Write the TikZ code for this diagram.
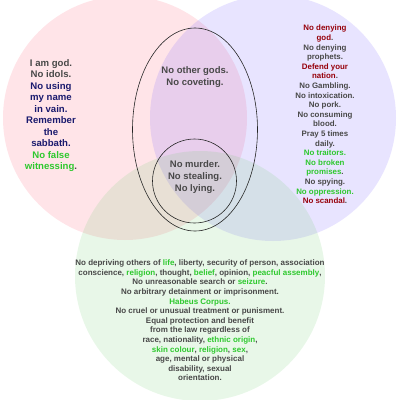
\documentclass[tikz,border=0pt]{standalone}
\usepackage{fontspec}
\setmainfont{Liberation Sans}
\definecolor{txtgray}{RGB}{72,72,72}
\definecolor{txtnavy}{RGB}{26,26,110}
\definecolor{txtgreen}{RGB}{45,200,45}
\definecolor{txtred}{RGB}{150,0,10}
\definecolor{pinkfill}{RGB}{255,75,102}
\definecolor{purplefill}{RGB}{102,75,255}
\definecolor{greenfill}{RGB}{102,202,102}

\tikzset{every picture/.style={line width=0.75pt}}
\tikzset{
  lefttext/.style={align=center, inner sep=0.75pt, text=txtgray, font=\fontsize{9.6}{11.5}\selectfont\bfseries},
  midtext/.style={align=center, inner sep=0.75pt, text=txtgray, font=\fontsize{9.5}{11.8}\selectfont\bfseries},
  righttext/.style={align=center, inner sep=0.75pt, text=txtgray, font=\fontsize{7.9}{9.6}\selectfont\bfseries},
  bottomtext/.style={align=center, inner sep=0.75pt, text=txtgray, font=\fontsize{8}{9.6}\selectfont\bfseries}
}

\begin{document}
\begin{tikzpicture}[x=1pt,y=1pt,yscale=-1,xscale=1]
\useasboundingbox (0,0) rectangle (400,400);

%Shape: Circle [pink]
\fill [color=pinkfill, fill opacity=0.15] (125,118) circle (122);
%Shape: Circle [purple]
\fill [color=purplefill, fill opacity=0.15] (273,118) circle (123);
%Shape: Circle [green]
\fill [color=greenfill, fill opacity=0.15] (200,276) circle (125);
%Shape: Ellipse
\draw [color=black!85, line width=0.6pt] (195,129.5) ellipse [x radius=62.5, y radius=101.5];
%Shape: Circle
\draw [color=black!85, line width=0.6pt] (194.5,181) circle (42);

% Text Node
\node [lefttext] (tencmd) at (51,115.5) {I am god.\\ No idols.\\ \textcolor{txtnavy}{No using}\\ \textcolor{txtnavy}{my name}\\ \textcolor{txtnavy}{in vain.}\\ \textcolor{txtnavy}{Remember}\\ \textcolor{txtnavy}{the}\\ \textcolor{txtnavy}{sabbath.}\\ \textcolor{txtgreen}{No false}\\ \textcolor{txtgreen}{witnessing}.};
% Text Node
\node [midtext] (othergods) at (195,77) {No other gods.\\ No coveting.};
% Text Node
\node [midtext] (murder) at (195,177) {No murder.\\ No stealing.\\ No lying.};
% Text Node
\node [righttext] (islam) at (325,114.5) {\textcolor{txtred}{No denying}\\ \textcolor{txtred}{god}.\\ No denying\\ prophets.\\ \textcolor{txtred}{Defend your}\\ \textcolor{txtred}{nation}.\\ No Gambling.\\ No intoxication.\\ No pork.\\ No consuming\\ blood.\\ Pray 5 times\\ daily.\\ \textcolor{txtgreen}{No traitors.}\\ \textcolor{txtgreen}{No broken}\\ \textcolor{txtgreen}{promises}.\\ No spying.\\ \textcolor{txtgreen}{No oppression.}\\ \textcolor{txtred}{No scandal}.};
% Text Node
\node [bottomtext] (rights) at (200,320.5) {No depriving others of \textcolor{txtgreen}{life}, liberty, security of person, association\\ conscience, \textcolor{txtgreen}{religion}, thought, \textcolor{txtgreen}{belief}, opinion, \textcolor{txtgreen}{peacful assembly},\\ No unreasonable search or \textcolor{txtgreen}{seizure}.\\ No arbitrary detainment or imprisonment.\\ \textcolor{txtgreen}{Habeus Corpus.}\\ No cruel or unusual treatment or punisment.\\ Equal protection and benefit\\ from the law regardless of\\ race, nationality, \textcolor{txtgreen}{ethnic origin},\\ \textcolor{txtgreen}{skin colour}, \textcolor{txtgreen}{religion}, \textcolor{txtgreen}{sex},\\ age, mental or physical\\ disability, sexual\\ orientation.};

\end{tikzpicture}
\end{document}
